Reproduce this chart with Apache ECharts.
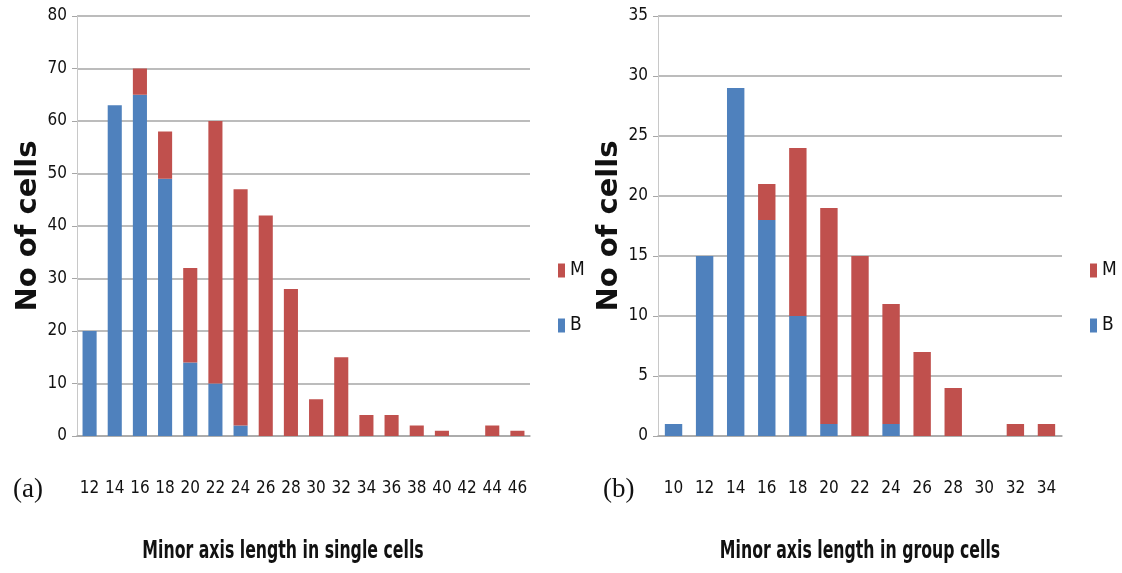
<!DOCTYPE html>
<html>
	<head>
		<meta charset="UTF-8">
		<title>Minor axis length</title>
		<style>
			*{padding:0;margin:0;}
			body{background:#fff;}
			#chart{width:1122px;height:573px;}
		</style>
	</head>
	<body>
		<div id="chart"></div>
	</body>
	<script src="https://cdn.jsdelivr.net/npm/echarts@6/dist/echarts.min.js"></script>
	<script>
		// (a) single cells
		var catA = ["12","14","16","18","20","22","24","26","28","30","32","34","36","38","40","42","44","46"];
		var bA = [20, 63, 65, 49, 14, 10, 2, 0, 0, 0, 0, 0, 0, 0, 0, 0, 0, 0];
		var mA = [0, 0, 5, 9, 18, 50, 45, 42, 28, 7, 15, 4, 4, 2, 1, 0, 2, 1];
		// (b) group cells
		var catB = ["10","12","14","16","18","20","22","24","26","28","30","32","34"];
		var bB = [1, 15, 29, 18, 10, 1, 0, 1, 0, 0, 0, 0, 0];
		var mB = [0, 0, 0, 3, 14, 18, 15, 10, 7, 4, 0, 1, 1];

		var narrow = "'DejaVu Sans Condensed', sans-serif";
		var blue = "#4f81bd", red = "#c0504d", gridCol = "#a6a6a6";

		function xAx(idx, data){
			return {
				type:"category", gridIndex:idx, data:data,
				axisTick:{show:false},
				axisLine:{lineStyle:{color:gridCol, width:1.5}},
				axisLabel:{interval:0, hideOverlap:false, margin:44, color:"#111", fontSize:17, fontFamily:narrow}
			};
		}
		function yAx(idx, max, step){
			return {
				type:"value", gridIndex:idx, min:0, max:max, interval:step,
				axisLine:{show:true, lineStyle:{color:"#c8c8c8"}},
				axisTick:{show:true, length:5, lineStyle:{color:gridCol}},
				axisLabel:{margin:10, color:"#111", fontSize:17, fontFamily:narrow},
				splitLine:{lineStyle:{color:gridCol, width:1.5}},
				name:"No of cells", nameLocation:"middle", nameGap:34, nameRotate:90,
				nameTextStyle:{fontSize:29, fontWeight:"bold", color:"#111", fontFamily:"'DejaVu Sans', sans-serif"}
			};
		}
		function bar(name, idx, data, color){
			return {
				name:name, type:"bar", stack:"s"+idx, xAxisIndex:idx, yAxisIndex:idx,
				barWidth:"56%", itemStyle:{color:color}, data:data
			};
		}
		function leg(left){
			return {
				orient:"vertical", left:left, top:256, itemGap:36,
				icon:"rect", itemWidth:7, itemHeight:14,
				textStyle:{fontSize:19, color:"#111", fontFamily:narrow},
				data:["M","B"]
			};
		}
		// axis titles are squeezed horizontally to imitate the narrow bold face
		function axisTitle(text, x){
			return {
				type:"text", x:x, y:551, scaleX:0.63,
				style:{text:text, fill:"#111", font:"bold 25px 'DejaVu Sans', sans-serif", align:"center", verticalAlign:"middle"}
			};
		}

		var chart = echarts.init(document.getElementById("chart"));
		chart.setOption({
			animation:false,
			title:[
				{text:"(a)", left:8, top:471, textStyle:{fontSize:27, fontWeight:"normal", color:"#111", fontFamily:"'Liberation Serif', serif"}},
				{text:"(b)", left:598, top:471, textStyle:{fontSize:27, fontWeight:"normal", color:"#111", fontFamily:"'Liberation Serif', serif"}}
			],
			legend:[leg(553), leg(1085)],
			grid:[
				{left:77, right:592, top:16, bottom:137},
				{left:658, right:60, top:16, bottom:137}
			],
			xAxis:[xAx(0, catA), xAx(1, catB)],
			yAxis:[yAx(0, 80, 10), yAx(1, 35, 5)],
			series:[
				bar("B", 0, bA, blue),
				bar("M", 0, mA, red),
				bar("B", 1, bB, blue),
				bar("M", 1, mB, red)
			],
			graphic:[
				axisTitle("Minor axis length in single cells", 283),
				axisTitle("Minor axis length in group cells", 860)
			]
		});
	</script>
</html>
